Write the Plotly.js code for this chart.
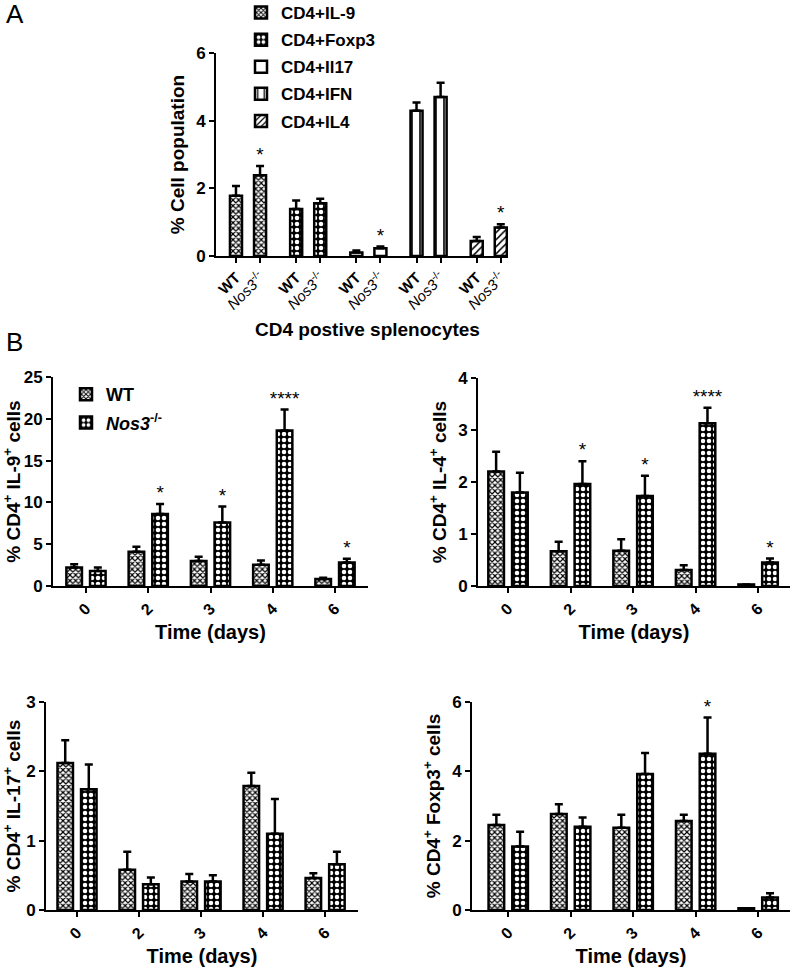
<!DOCTYPE html>
<html>
<head>
<meta charset="utf-8">
<script src="https://cdn.plot.ly/plotly-3.0.1.min.js"></script>
<style>
  html, body { margin: 0; padding: 0; background: #fff; }
  #chart { width: 794px; height: 969px; }
</style>
</head>
<body>
<div id="chart"></div>
<script>
// ---- Panel A: CD4 positive splenocytes ----
const aSubsets = ['CD4+IL-9', 'CD4+Foxp3', 'CD4+Il17', 'CD4+IFN', 'CD4+IL4'];
const aWT = [1.78, 1.39, 0.10, 4.29, 0.44];
const aWTErr = [0.29, 0.25, 0.06, 0.25, 0.12];
const aNos = [2.39, 1.56, 0.23, 4.70, 0.84];
const aNosErr = [0.27, 0.13, 0.05, 0.42, 0.10];
const aStars = ['*', '', '*', '', '*'];
const genotypes = ['WT', 'Nos3-/-'];

// ---- Panel B: time course (days) ----
const days = ['0', '2', '3', '4', '6'];

const il9WT = [2.2, 4.1, 3.0, 2.55, 0.85];
const il9WTErr = [0.4, 0.6, 0.5, 0.5, 0.15];
const il9Nos = [1.8, 8.6, 7.6, 18.6, 2.8];
const il9NosErr = [0.4, 1.2, 1.9, 2.5, 0.45];
const il9Stars = ['', '*', '*', '****', '*'];

const il4WT = [2.2, 0.67, 0.68, 0.31, 0.03];
const il4WTErr = [0.38, 0.18, 0.22, 0.09, 0];
const il4Nos = [1.8, 1.96, 1.73, 3.13, 0.45];
const il4NosErr = [0.38, 0.44, 0.39, 0.3, 0.08];
const il4Stars = ['', '*', '*', '****', '*'];

const il17WT = [2.12, 0.58, 0.41, 1.79, 0.46];
const il17WTErr = [0.33, 0.26, 0.11, 0.19, 0.07];
const il17Nos = [1.74, 0.37, 0.41, 1.10, 0.66];
const il17NosErr = [0.36, 0.1, 0.09, 0.5, 0.18];
const il17Stars = ['', '', '', '', ''];

const foxWT = [2.45, 2.77, 2.37, 2.57, 0.05];
const foxWTErr = [0.3, 0.28, 0.38, 0.18, 0];
const foxNos = [1.83, 2.4, 3.92, 4.51, 0.36];
const foxNosErr = [0.43, 0.27, 0.61, 1.04, 0.12];
const foxStars = ['', '', '', '*', ''];

const FONT = 'Liberation Sans, Arial, sans-serif';

// bar fill patterns
const patFine = { shape: 'x', size: 4, solidity: 0.5, fgcolor: '#000', bgcolor: '#fff' };
const patChecker = { shape: '.', size: 6, solidity: 0.45, fgcolor: '#fff', bgcolor: '#000' };
const patOpen = { shape: '', fgcolor: '#000', bgcolor: '#fff' };
const patVert = { shape: '|', size: 8, solidity: 0.2, fgcolor: '#000', bgcolor: '#fff' };
const patDiag = { shape: '/', size: 5, solidity: 0.3, fgcolor: '#000', bgcolor: '#fff' };
const aPatterns = [patFine, patChecker, patOpen, patVert, patDiag];

const zeros = n => Array.from({ length: n }, () => 0);

function errBars(err) {
    return {
        type: 'data', symmetric: false, array: err, arrayminus: zeros(err.length),
        color: '#000', thickness: 2.5, width: 4
    };
}

// significance marks: only the points that carry a star
function starTrace(xs, vals, errs, stars, xa, ya) {
    const idx = stars.map((s, i) => i).filter(i => stars[i] !== '');
    return {
        type: 'scatter', mode: 'text',
        x: idx.map(i => xs[i]), y: idx.map(i => vals[i] + errs[i]), text: idx.map(i => stars[i]),
        textposition: 'top center',
        textfont: { family: FONT, size: 19, color: '#000' },
        showlegend: false, cliponaxis: false, hoverinfo: 'skip',
        xaxis: xa, yaxis: ya
    };
}

const traces = [];

// Panel A: one trace per subset, WT and Nos3 side by side
const aNosX = [];
aSubsets.forEach((name, g) => {
    const xs = [g * 2.5, g * 2.5 + 1];
    aNosX.push(xs[1]);
    traces.push({
        type: 'bar', x: xs, y: [aWT[g], aNos[g]], width: 0.5,
        name: name, legend: 'legend', legendgroup: name,
        marker: { color: '#fff', pattern: aPatterns[g], line: { color: '#000', width: 2.5 } },
        error_y: errBars([aWTErr[g], aNosErr[g]]),
        xaxis: 'x', yaxis: 'y'
    });
});
traces.push(starTrace(aNosX, aNos, aNosErr, aStars, 'x', 'y'));

// Panel B subplots
const bPanels = [
    { wt: il9WT, wtErr: il9WTErr, nos: il9Nos, nosErr: il9NosErr, stars: il9Stars, ax: '2' },
    { wt: il4WT, wtErr: il4WTErr, nos: il4Nos, nosErr: il4NosErr, stars: il4Stars, ax: '3' },
    { wt: il17WT, wtErr: il17WTErr, nos: il17Nos, nosErr: il17NosErr, stars: il17Stars, ax: '4' },
    { wt: foxWT, wtErr: foxWTErr, nos: foxNos, nosErr: foxNosErr, stars: foxStars, ax: '5' }
];
const off = 0.19;

bPanels.forEach((p, k) => {
    const xa = 'x' + p.ax, ya = 'y' + p.ax;
    const xWT = days.map((d, i) => i - off);
    const xNos = days.map((d, i) => i + off);
    traces.push({
        type: 'bar', x: xWT, y: p.wt, width: 0.25,
        name: '<b>WT</b>', legend: 'legend2', legendgroup: 'wt', showlegend: k === 0,
        marker: { color: '#fff', pattern: patFine, line: { color: '#000', width: 2.5 } },
        error_y: errBars(p.wtErr), xaxis: xa, yaxis: ya
    });
    traces.push({
        type: 'bar', x: xNos, y: p.nos, width: 0.25,
        name: '<b><i>Nos3</i></b><sup>-/-</sup>', legend: 'legend2', legendgroup: 'nos', showlegend: k === 0,
        marker: { color: '#fff', pattern: patChecker, line: { color: '#000', width: 2.5 } },
        error_y: errBars(p.nosErr), xaxis: xa, yaxis: ya
    });
    if (p.stars.some(s => s !== '')) {
        traces.push(starTrace(xNos, p.nos, p.nosErr, p.stars, xa, ya));
    }
});

const W = 794, H = 969;
const dx = (a, b) => [a / W, b / W];
const dy = (bottom, top) => [1 - bottom / H, 1 - top / H];

function axisBase(extra) {
    return Object.assign({
        showline: true, linewidth: 2, linecolor: '#000', mirror: false,
        ticks: 'outside', ticklen: 5, tickwidth: 2, tickcolor: '#000',
        showgrid: false, zeroline: false, fixedrange: true,
        tickfont: { family: FONT, size: 17, color: '#000', weight: 'bold' }
    }, extra);
}

function yTitle(text, size) {
    return { text: text, font: { family: FONT, size: size, color: '#000', weight: 'bold' }, standoff: 6 };
}
const timeTitle = { text: 'Time (days)', font: { family: FONT, size: 20, color: '#000', weight: 'bold' }, standoff: 8 };
const dayFont = { family: FONT, size: 16, color: '#000', weight: 'bold' };

const dayTicks = days.map((d, i) => i);
const aTickVals = [];
const aTickText = [];
aSubsets.forEach((s, g) => {
    aTickVals.push(g * 2.5, g * 2.5 + 1);
    aTickText.push('<b>' + genotypes[0] + '</b>', '<i>Nos3</i><sup>-/-</sup>');
});

const layout = {
    width: W, height: H,
    margin: { l: 0, r: 0, t: 0, b: 0, autoexpand: false },
    paper_bgcolor: '#fff', plot_bgcolor: '#fff',
    font: { family: FONT, color: '#000' },
    barmode: 'overlay',
    showlegend: true,
    // Panel A
    xaxis: axisBase({
        domain: dx(216, 508), anchor: 'y', range: [-0.83, 11.3],
        tickvals: aTickVals, ticktext: aTickText, tickangle: -45,
        tickfont: { family: FONT, size: 15, color: '#000' }
    }),
    yaxis: axisBase({
        domain: dy(256, 53), anchor: 'x', range: [0, 6], tickvals: [0, 2, 4, 6],
        title: yTitle('% Cell population', 19)
    }),
    // B: IL-9
    xaxis2: axisBase({
        domain: dx(53, 368), anchor: 'y2', range: [-0.53, 4.53],
        tickvals: dayTicks, ticktext: days, tickangle: -45, tickfont: dayFont, title: timeTitle
    }),
    yaxis2: axisBase({
        domain: dy(586, 377), anchor: 'x2', range: [0, 25], tickvals: [0, 5, 10, 15, 20, 25],
        title: yTitle('% CD4<sup>+</sup> IL-9<sup>+</sup> cells', 19)
    }),
    // B: IL-4
    xaxis3: axisBase({
        domain: dx(478, 790), anchor: 'y3', range: [-0.48, 4.51],
        tickvals: dayTicks, ticktext: days, tickangle: -45, tickfont: dayFont, title: timeTitle
    }),
    yaxis3: axisBase({
        domain: dy(586, 378), anchor: 'x3', range: [0, 4], tickvals: [0, 1, 2, 3, 4],
        title: yTitle('% CD4<sup>+</sup> IL-4<sup>+</sup> cells', 19)
    }),
    // B: IL-17
    xaxis4: axisBase({
        domain: dx(46, 358), anchor: 'y4', range: [-0.5, 4.53],
        tickvals: dayTicks, ticktext: days, tickangle: -45, tickfont: dayFont, title: timeTitle
    }),
    yaxis4: axisBase({
        domain: dy(910, 702), anchor: 'x4', range: [0, 3], tickvals: [0, 1, 2, 3],
        title: yTitle('% CD4<sup>+</sup> IL-17<sup>+</sup> cells', 19)
    }),
    // B: Foxp3
    xaxis5: axisBase({
        domain: dx(472, 790), anchor: 'y5', range: [-0.58, 4.51],
        tickvals: dayTicks, ticktext: days, tickangle: -45, tickfont: dayFont, title: timeTitle
    }),
    yaxis5: axisBase({
        domain: dy(910, 702), anchor: 'x5', range: [0, 6], tickvals: [0, 2, 4, 6],
        title: yTitle('% CD4<sup>+</sup> Foxp3<sup>+</sup> cells', 19)
    }),
    legend: {
        x: 241 / W, xanchor: 'left', y: 1 + 5 / H, yanchor: 'top',
        bgcolor: 'rgba(0,0,0,0)', borderwidth: 0, tracegroupgap: 2,
        font: { family: FONT, size: 17, color: '#000', weight: 'bold' }
    },
    legend2: {
        x: 66 / W, xanchor: 'left', y: 1 - 376 / H, yanchor: 'top',
        bgcolor: 'rgba(0,0,0,0)', borderwidth: 0, tracegroupgap: 2,
        font: { family: FONT, size: 18, color: '#000', weight: 'bold' }
    },
    annotations: [
        { text: 'A', x: 4 / W, y: 1 + 3 / H, xref: 'paper', yref: 'paper', xanchor: 'left', yanchor: 'top',
          showarrow: false, font: { family: FONT, size: 26, color: '#000' } },
        { text: 'B', x: 4 / W, y: 1 - 325 / H, xref: 'paper', yref: 'paper', xanchor: 'left', yanchor: 'top',
          showarrow: false, font: { family: FONT, size: 26, color: '#000' } },
        { text: 'CD4 postive splenocytes', x: 367 / W, y: 1 - 329 / H, xref: 'paper', yref: 'paper',
          xanchor: 'center', yanchor: 'middle', showarrow: false,
          font: { family: FONT, size: 19, color: '#000', weight: 'bold' } }
    ]
};

Plotly.newPlot('chart', traces, layout, { staticPlot: true, displayModeBar: false });
</script>
</body>
</html>
